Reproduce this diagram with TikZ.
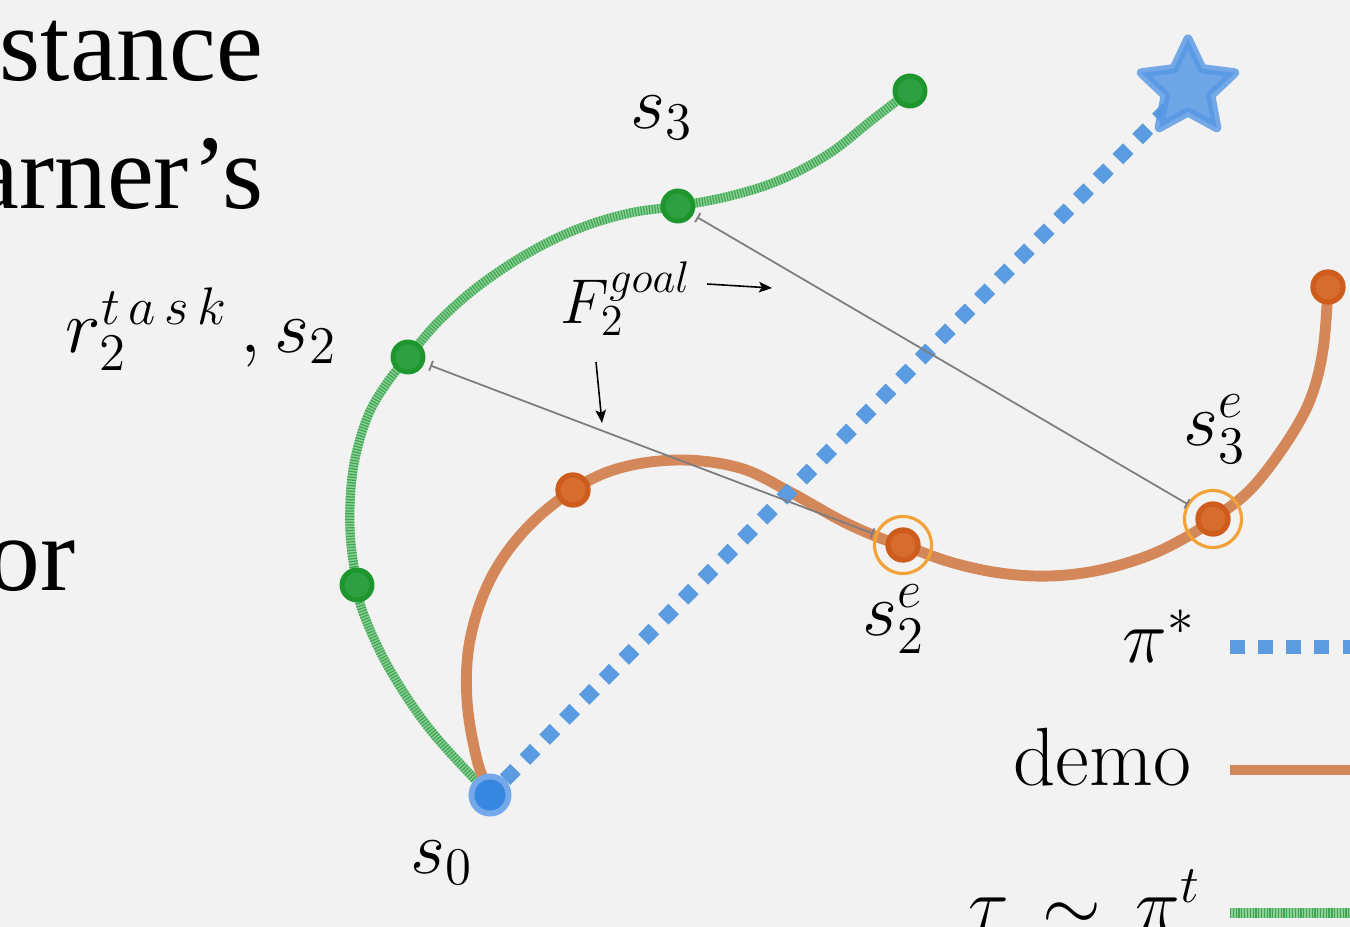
\documentclass[tikz,border=0pt]{standalone}
\usepackage{fix-cm}
\usepackage{fontspec}
\newfontfamily\timesfont{Liberation Serif}
\usetikzlibrary{arrows.meta,shapes.geometric}
\definecolor{bg}{RGB}{242,242,242}
\definecolor{glight}{RGB}{140,206,150}
\definecolor{gstripe}{RGB}{62,168,82}
\definecolor{gdotc}{RGB}{28,150,45}
\definecolor{gdotin}{RGB}{45,160,65}
\definecolor{orline}{RGB}{212,136,90}
\definecolor{ordot}{RGB}{206,92,28}
\definecolor{ordotin}{RGB}{214,108,45}
\definecolor{ringc}{RGB}{242,162,55}
\definecolor{blueline}{RGB}{90,155,225}
\definecolor{bluein}{RGB}{55,135,225}
\definecolor{blueout}{RGB}{115,168,235}
\definecolor{starfill}{RGB}{110,166,232}
\definecolor{starline}{RGB}{85,150,228}
\definecolor{greyc}{RGB}{125,125,125}
\tikzset{
  lbl/.style={inner sep=0pt,font=\fontsize{21.5}{26}\selectfont},
  bigtxt/.style={inner sep=0pt,font=\timesfont\fontsize{30}{36}\selectfont},
  greenpath/.style={draw=gstripe,line width=2.6pt,dash pattern=on 0.35pt off 0.45pt,
    preaction={draw=glight,solid,line width=2.6pt}},
  orangepath/.style={draw=orline,line width=3.1pt},
  bluepath/.style={draw=blueline,line width=4.2pt,dash pattern=on 4.2pt off 3.8pt},
  gdot/.style={circle,minimum size=0.30cm,inner sep=0pt,outer sep=0pt,fill=gdotin,draw=gdotc,line width=1.4pt},
  odot/.style={circle,minimum size=0.30cm,inner sep=0pt,outer sep=0pt,fill=ordotin,draw=ordot,line width=1.5pt},
  ringnode/.style={circle,minimum size=0.57cm,inner sep=0pt,outer sep=0pt,draw=ringc,line width=0.9pt},
  tickline/.style={draw=greyc,line width=0.5pt,{Bar[width=3pt]}-{Bar[width=3pt]}},
  ptr/.style={draw=black,line width=0.45pt,-{Stealth[length=3.7pt,width=3pt,inset=0.8pt]}}
}
\begin{document}
\begin{tikzpicture}[x=0.01cm,y=-0.01cm]
\useasboundingbox (0,0) rectangle (1350,927);
\fill[bg] (0,0) rectangle (1350,927);

% cut-off text at the left
\node[bigtxt,anchor=base east] (t1) at (264,80) {stance};
\node[bigtxt,anchor=base east] (t2) at (264,208) {arner’s};
\node[bigtxt,anchor=base east] (t3) at (76,590) {or};

% curves
\draw[greenpath] plot[smooth,tension=0.6] coordinates {(490,795) (432,732) (390,670) (364,615) (357,585) (350,530) (353,470) (367,418) (387,383) (408,357) (440,320) (480,285) (530,252) (580,228) (630,213) (678,206) (730,196) (780,180) (830,153) (872,120) (910,91)};
\draw[orangepath] plot[smooth,tension=0.6] coordinates {(490,795) (477,760) (467,700) (470,640) (490,580) (525,530) (573,490) (620,468) (680,460) (740,468) (790,492) (840,520) (880,538) (903,545) (950,562) (1000,573) (1050,576) (1100,570) (1150,555) (1190,535) (1213,519) (1250,490) (1285,445) (1310,400) (1323,350) (1328,287)};

% nodes
\node[circle,minimum size=0.43cm,inner sep=0pt,outer sep=0pt,fill=blueout] (s0) at (490,795) {};
\node[circle,minimum size=0.31cm,inner sep=0pt,fill=bluein] (s0in) at (490,795) {};
\coordinate (starc) at (1188,88);
\draw[bluepath] (s0) -- (starc);
\node[star,star points=5,star point ratio=2.05,minimum size=0.98cm,inner sep=0pt,
  fill=starfill,draw=starline,line width=2.6pt,line join=round,draw opacity=0.8] (star) at (starc) {};

\node[gdot] (g1) at (357,585) {};
\node[gdot] (g2) at (408,357) {};
\node[gdot] (g3) at (678,206) {};
\node[gdot] (g4) at (910,91) {};
\node[odot] (o1) at (573,490) {};
\node[odot] (e2) at (903,545) {};
\node[odot] (e3) at (1213,519) {};
\node[odot] (o4) at (1328,287) {};
\node[ringnode] (r2) at (e2) {};
\node[ringnode] (r3) at (e3) {};

% distance lines
\draw[tickline,shorten <=2.5pt,shorten >=1pt] (g2) -- (r2);
\draw[tickline,shorten <=2pt,shorten >=0.2pt] (g3) -- (r3);

% labels
\node[lbl,anchor=base west] (ls3) at (630,128) {$s_3$};
\node[lbl,anchor=base west] (ls2) at (65,352) {$r_2^{t\mkern3mu a\mkern3mu s\mkern3mu k}\mkern3mu, s_2$};
\node[lbl,anchor=base west,font=\fontsize{18}{22}\selectfont] (lF) at (560,323) {$F_2^{goal}$};
\node[lbl,anchor=base west] (ls3e) at (1183,445) {$s_3^e$};
\node[lbl,anchor=base west] (ls2e) at (862,635) {$s_2^e$};
\node[lbl,anchor=base west] (ls0) at (410,873) {$s_0$};

\coordinate (a1s) at (707,284);
\coordinate (a1e) at (772,288);
\coordinate (a2s) at (596,362);
\coordinate (a2e) at (602,423);
\draw[ptr] (a1s) -- (a1e);
\draw[ptr] (a2s) -- (a2e);

% legend
\node[lbl,anchor=base west] (lpi) at (1122,662) {$\pi^*$};
\node[lbl,anchor=base west,font=\fontsize{23.5}{28}\selectfont] (ldemo) at (1013,785) {demo};
\node[lbl,anchor=base west] (ltau) at (968,930) {$\tau\mkern3mu\sim\mkern3mu\pi^t$};
\coordinate (l1a) at (1230,647); \coordinate (l1b) at (1380,647);
\coordinate (l2a) at (1230,770); \coordinate (l2b) at (1380,770);
\coordinate (l3a) at (1230,913); \coordinate (l3b) at (1380,913);
\draw[bluepath] (l1a) -- (l1b);
\draw[orangepath] (l2a) -- (l2b);
\draw[greenpath] (l3a) -- (l3b);
\end{tikzpicture}
\end{document}
